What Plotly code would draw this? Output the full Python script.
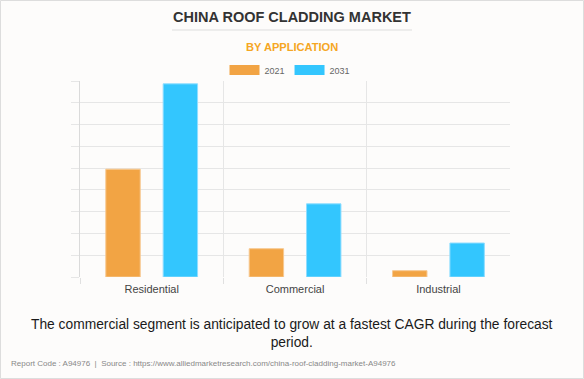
import plotly.graph_objects as go

categories = ["Residential", "Commercial", "Industrial"]
values_2021 = [4.95, 1.30, 0.29]
values_2031 = [8.87, 3.36, 1.56]
series_names = ["2021", "2031"]

W, H = 584, 379
L, R, T, B = 80, 510, 81, 277

def px(x):
    return (x - L) / (R - L)

def py(y):
    return (B - y) / (B - T)

ORANGE = "#F2A444"
BLUE = "#33C6FE"
FONT = "Arial, Liberation Sans, sans-serif"

fig = go.Figure()
fig.add_trace(go.Bar(x=categories, y=values_2021, name=series_names[0],
                     marker=dict(color=ORANGE, line=dict(color="#F7C890", width=1)),
                     showlegend=False))
fig.add_trace(go.Bar(x=categories, y=values_2031, name=series_names[1],
                     marker=dict(color=BLUE, line=dict(color="#8FDDFF", width=1)),
                     showlegend=False))
# legend swatches
for nm, col in zip(series_names, [ORANGE, BLUE]):
    fig.add_trace(go.Scatter(x=[None], y=[None], mode="lines", name=nm,
                             line=dict(color=col, width=10)))

fig.update_layout(
    width=W, height=H,
    margin=dict(l=L, r=W - R, t=T, b=H - B, autoexpand=False),
    paper_bgcolor="#FDFCFB", plot_bgcolor="#FDFCFB",
    bargap=0.2, bargroupgap=0.4, barmode="group",
    font=dict(family=FONT, color="#444"),
    showlegend=True,
    legend=dict(orientation="h", x=px(290), xanchor="center", y=py(70), yanchor="middle",
                font=dict(size=9, color="#666"), itemwidth=30,
                bgcolor="rgba(0,0,0,0)", traceorder="normal"),
    xaxis=dict(showgrid=True, gridcolor="#E6E6E6", tickson="boundaries",
               ticks="outside", ticklen=6, tickcolor="#E0E0E0",
               tickfont=dict(size=11, color="#444"), showline=False,
               ticklabelstandoff=4,
               zeroline=False, range=[-0.5, 2.499]),
    yaxis=dict(range=[0, 9], dtick=1, showgrid=True, gridcolor="#E6E6E6",
               showticklabels=False, ticks="outside", ticklen=8, tickcolor="#E6E6E6",
               showline=True, linecolor="#DADADA", zeroline=False),
    shapes=[
        dict(type="line", xref="paper", yref="paper", x0=px(172), x1=px(412),
             y0=py(30), y1=py(30), line=dict(color="#DDDDDD", width=1)),
        dict(type="rect", xref="paper", yref="paper", x0=px(0.5), x1=px(W - 0.5),
             y0=py(0.5), y1=py(H - 0.5), line=dict(color="#DDDDDD", width=1)),
    ],
    annotations=[
        dict(text="<b>CHINA ROOF CLADDING MARKET</b>", xref="paper", yref="paper",
             x=px(292), y=py(17), xanchor="center", yanchor="middle", showarrow=False,
             font=dict(size=14.5, color="#333", family=FONT)),
        dict(text="<b>BY APPLICATION</b>", xref="paper", yref="paper",
             x=px(292), y=py(47), xanchor="center", yanchor="middle", showarrow=False,
             font=dict(size=11.1, color="#F5A623", family=FONT)),
        dict(text="The commercial segment is anticipated to grow at a fastest CAGR during the forecast<br>period.",
             xref="paper", yref="paper", x=px(292), y=py(333), xanchor="center",
             yanchor="middle", showarrow=False,
             font=dict(size=13.8, color="#1a1a1a", family=FONT)),
        dict(text="Report Code : A94976  |  Source : https://www.alliedmarketresearch.com/china-roof-cladding-market-A94976",
             xref="paper", yref="paper", x=px(9), y=py(363), xanchor="left",
             yanchor="middle", showarrow=False,
             font=dict(size=8, color="#888", family=FONT)),
    ],
)

fig.write_html("out.html", config={"displayModeBar": False},
               post_script="document.body.style.margin='0';document.body.style.overflow='hidden';")
